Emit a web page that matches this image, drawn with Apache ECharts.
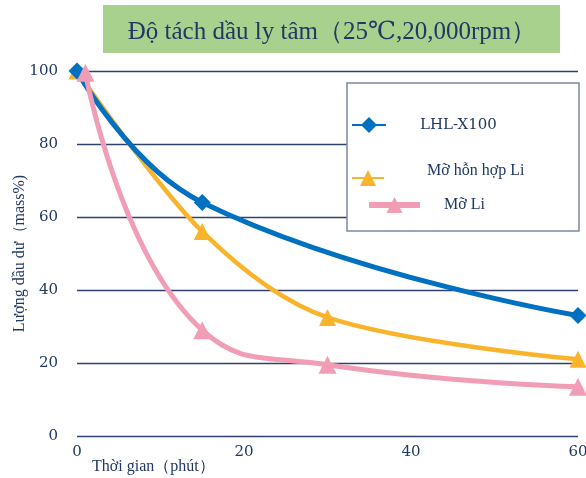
<!DOCTYPE html>
<html><head><meta charset="utf-8">
<script src="https://cdn.jsdelivr.net/npm/echarts@6/dist/echarts.min.js"></script>
<style>html,body{margin:0;padding:0;background:#fff}#c{width:586px;height:478px}</style>
</head><body><div id="c"></div>
<script>
const titleText = 'Độ tách dầu ly tâm（25℃,20,000rpm）';
const seriesNames = ['LHL-X100', 'Mỡ hỗn hợp Li', 'Mỡ Li'];
const xAxisName = 'Thời gian（phút）';
const yAxisName = 'Lượng dầu dư（mass%)';
const blueX = [0, 15, 60];
const blueY = [100, 64, 33];
const yellowX = [0, 15, 30, 60];
const yellowY = [100, 56, 32.5, 21];
const pinkX = [1, 15, 30, 60];
const pinkY = [99.5, 29, 19.5, 13.5];
const xTicks = [0, 20, 40, 60];
const yTicks = [0, 20, 40, 60, 80, 100];

const navy = '#1F3864';
const font = '"Liberation Serif", "DejaVu Serif", serif';
const numFont = '"DejaVu Serif", "Liberation Serif", serif';
const pairs = (xs, ys) => xs.map((x, i) => [x, ys[i]]);

const chart = echarts.init(document.getElementById('c'), null, {renderer: 'canvas'});
function legendItem(name, left, top, width, lineW, pad, fam, size) {
  return {
    data: [name], left: left, top: top, itemWidth: width, itemHeight: 20,
    selectedMode: false, padding: 0,
    lineStyle: {width: lineW},
    formatter: '{a|' + name + '}',
    textStyle: {rich: {a: {fontFamily: fam, fontSize: size, color: navy, padding: pad}}},
    z: 10
  };
}
chart.setOption({
  animation: false,
  title: {
    text: titleText, left: 327, top: 15, textAlign: 'center',
    textStyle: {fontFamily: font, fontSize: 25, fontWeight: 'normal', color: navy}
  },
  graphic: [
    {type: 'rect', shape: {x: 103, y: 5, width: 457, height: 48}, style: {fill: '#A9D18E'}, z: -1},
    {type: 'rect', shape: {x: 347, y: 83, width: 232, height: 148}, style: {fill: '#fff', stroke: '#7C88A6', lineWidth: 1.5}, z: 5}
  ],
  legend: [
    legendItem(seriesNames[0], 351, 117, 34, 2, [0, 0, 0, 29], numFont, 15),
    legendItem(seriesNames[1], 351, 163, 32, 2, [0, 0, 14, 38], font, 16),
    legendItem(seriesNames[2], 366, 197, 51, 6, [0, 0, 0, 19], font, 16)
  ],
  grid: {left: 77, right: 8, top: 71, bottom: 42, containLabel: false, outerBoundsMode: 'none'},
  xAxis: {
    type: 'value', min: 0, max: 60, interval: 20,
    name: xAxisName, nameLocation: 'start',
    nameGap: 0, nameMoveOverlap: false,
    nameTextStyle: {fontFamily: font, fontSize: 16, color: navy, align: 'left', verticalAlign: 'top', padding: [23, 0, 0, 15]},
    axisLine: {show: false}, axisTick: {show: false},
    splitLine: {show: false},
    axisLabel: {fontFamily: numFont, fontSize: 15, color: navy, margin: 9,
      formatter: v => xTicks.includes(v) ? String(v) : ''}
  },
  yAxis: {
    type: 'value', min: 0, max: 100, interval: 20,
    name: yAxisName, nameLocation: 'middle', nameGap: 49, nameMoveOverlap: false,
    nameTextStyle: {fontFamily: font, fontSize: 16, color: navy},
    axisLine: {show: false}, axisTick: {show: false},
    splitLine: {show: true, lineStyle: {color: '#2E4170', width: 1.3}},
    axisLabel: {fontFamily: numFont, fontSize: 15, color: navy, margin: 19,
      formatter: v => yTicks.includes(v) ? String(v) : ''}
  },
  series: [
    {name: seriesNames[0], type: 'line', smooth: 0.45, data: pairs(blueX, blueY), z: 3,
      symbol: 'diamond', symbolSize: 17,
      lineStyle: {color: '#0070C0', width: 5}, itemStyle: {color: '#0070C0'}},
    {name: seriesNames[1], type: 'line', smooth: 0.32, data: pairs(yellowX, yellowY), z: 2,
      symbol: 'triangle', symbolSize: 17,
      lineStyle: {color: '#F9B42C', width: 4.5}, itemStyle: {color: '#F9B42C'}},
    {name: seriesNames[2], type: 'line', smooth: 0.5, data: pairs(pinkX, pinkY), z: 4,
      symbol: 'triangle', symbolSize: 18,
      lineStyle: {color: '#F29DB6', width: 5}, itemStyle: {color: '#F29DB6'}}
  ]
});
</script></body></html>
